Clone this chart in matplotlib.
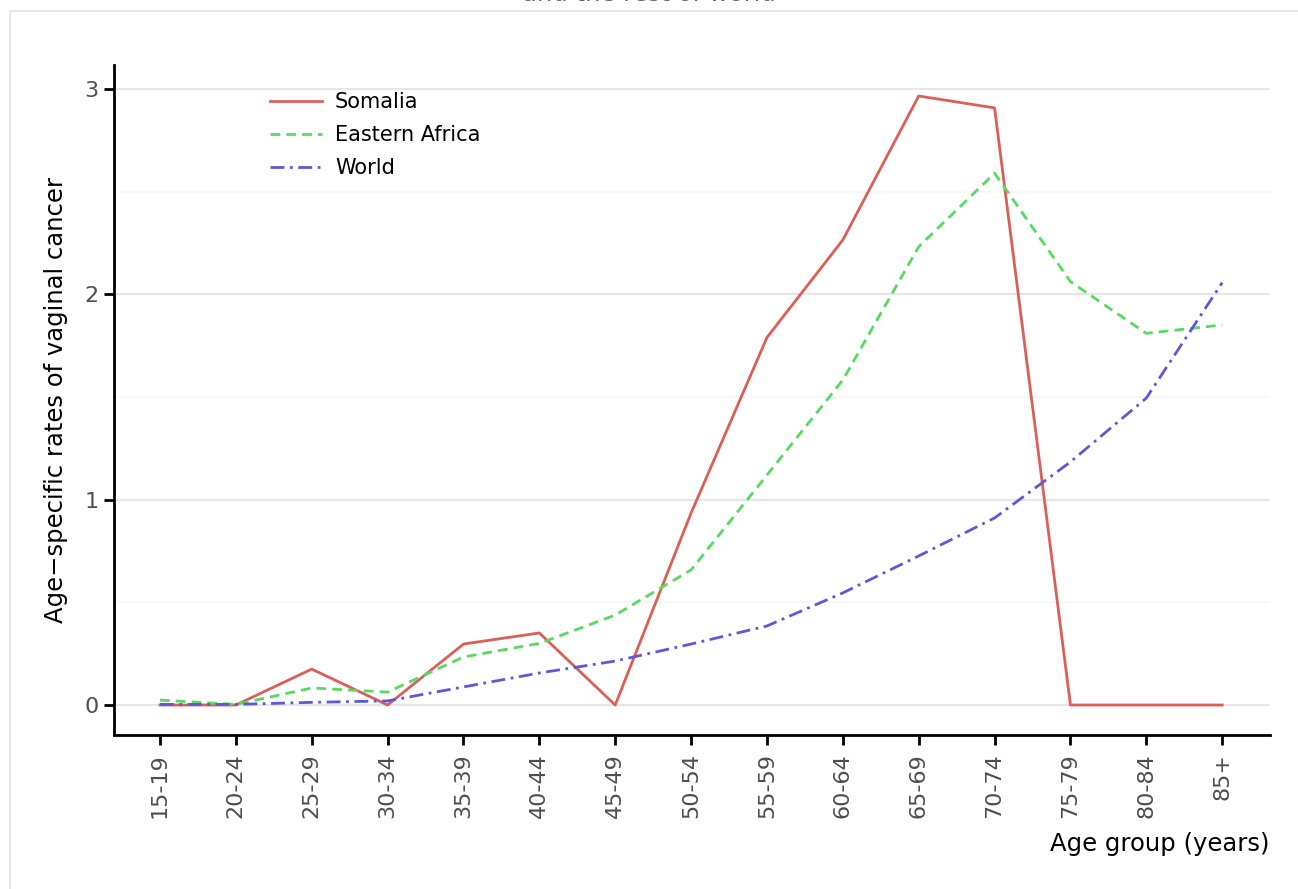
import matplotlib
matplotlib.use("Agg")
import matplotlib.pyplot as plt
from matplotlib.patches import Rectangle

age_groups = ["15-19", "20-24", "25-29", "30-34", "35-39", "40-44", "45-49",
              "50-54", "55-59", "60-64", "65-69", "70-74", "75-79", "80-84", "85+"]
somalia = [0.0, 0.0, 0.175, 0.0, 0.297, 0.351, 0.0, 0.935, 1.79, 2.265, 2.966, 2.908, 0.0, 0.0, 0.0]
eastern_africa = [0.024, 0.003, 0.083, 0.063, 0.234, 0.30, 0.438, 0.658, 1.12, 1.583, 2.232, 2.59, 2.062, 1.81, 1.851]
world = [0.003, 0.003, 0.013, 0.02, 0.088, 0.156, 0.214, 0.297, 0.385, 0.546, 0.726, 0.911, 1.184, 1.495, 2.057]

W, H = 1298, 889
fig = plt.figure(figsize=(W / 100, H / 100), dpi=100)

# outer light border
fig.patches.append(Rectangle((10 / W, -0.1), 1.2, 1.1 - 11 / H, transform=fig.transFigure,
                             fill=False, edgecolor="#e3e3e3", linewidth=1.2))

ax = fig.add_axes([114 / W, 1 - 735 / H, (1270 - 114) / W, (735 - 65) / H])

x = list(range(len(age_groups)))
ax.plot(x, somalia, color="#db5f57", lw=2.0, ls="-", label="Somalia")
ax.plot(x, eastern_africa, color="#57db5f", lw=2.0, ls=(0, (3.5, 2.2)), label="Eastern Africa")
ax.plot(x, world, color="#5f57db", lw=2.0, ls=(0, (5, 2, 1, 2)), label="World")

ax.set_xlim(-0.606, 14.63)
ax.set_ylim(-0.146, 3.117)
ax.set_xticks(x)
ax.set_xticklabels(age_groups, rotation=90)
ax.set_yticks([0, 1, 2, 3])
ax.set_yticks([0.5, 1.5, 2.5], minor=True)

ax.grid(axis="y", which="major", color="#e6e6e6", lw=1.6)
ax.grid(axis="y", which="minor", color="#f7f7f7", lw=1.2)
ax.grid(axis="x", visible=False)
ax.set_axisbelow(True)

for s in ["top", "right"]:
    ax.spines[s].set_visible(False)
for s in ["left", "bottom"]:
    ax.spines[s].set_linewidth(2.0)
    ax.spines[s].set_color("black")

ax.tick_params(axis="both", which="major", length=7, width=2.0, color="black",
               labelcolor="#4d4d4d", labelsize=16, pad=4)
ax.tick_params(axis="x", which="major", pad=6)
ax.tick_params(axis="y", which="minor", length=0)

ax.set_xlabel("Age group (years)", fontsize=17.5, loc="right", labelpad=10)
ax.set_ylabel("Age\u2212specific rates of vaginal cancer", fontsize=17.5, labelpad=12)

leg = ax.legend(loc="upper left", bbox_to_anchor=(0.119, 0.987), frameon=False,
                fontsize=15, handlelength=2.5, handletextpad=0.6, labelspacing=0.62)

fig.text(0.5, 1 - 1.0 / H, "and the rest of world", ha="center", va="baseline",
         fontsize=17.5, color="#666666")

fig.savefig("out.png", dpi=100)
